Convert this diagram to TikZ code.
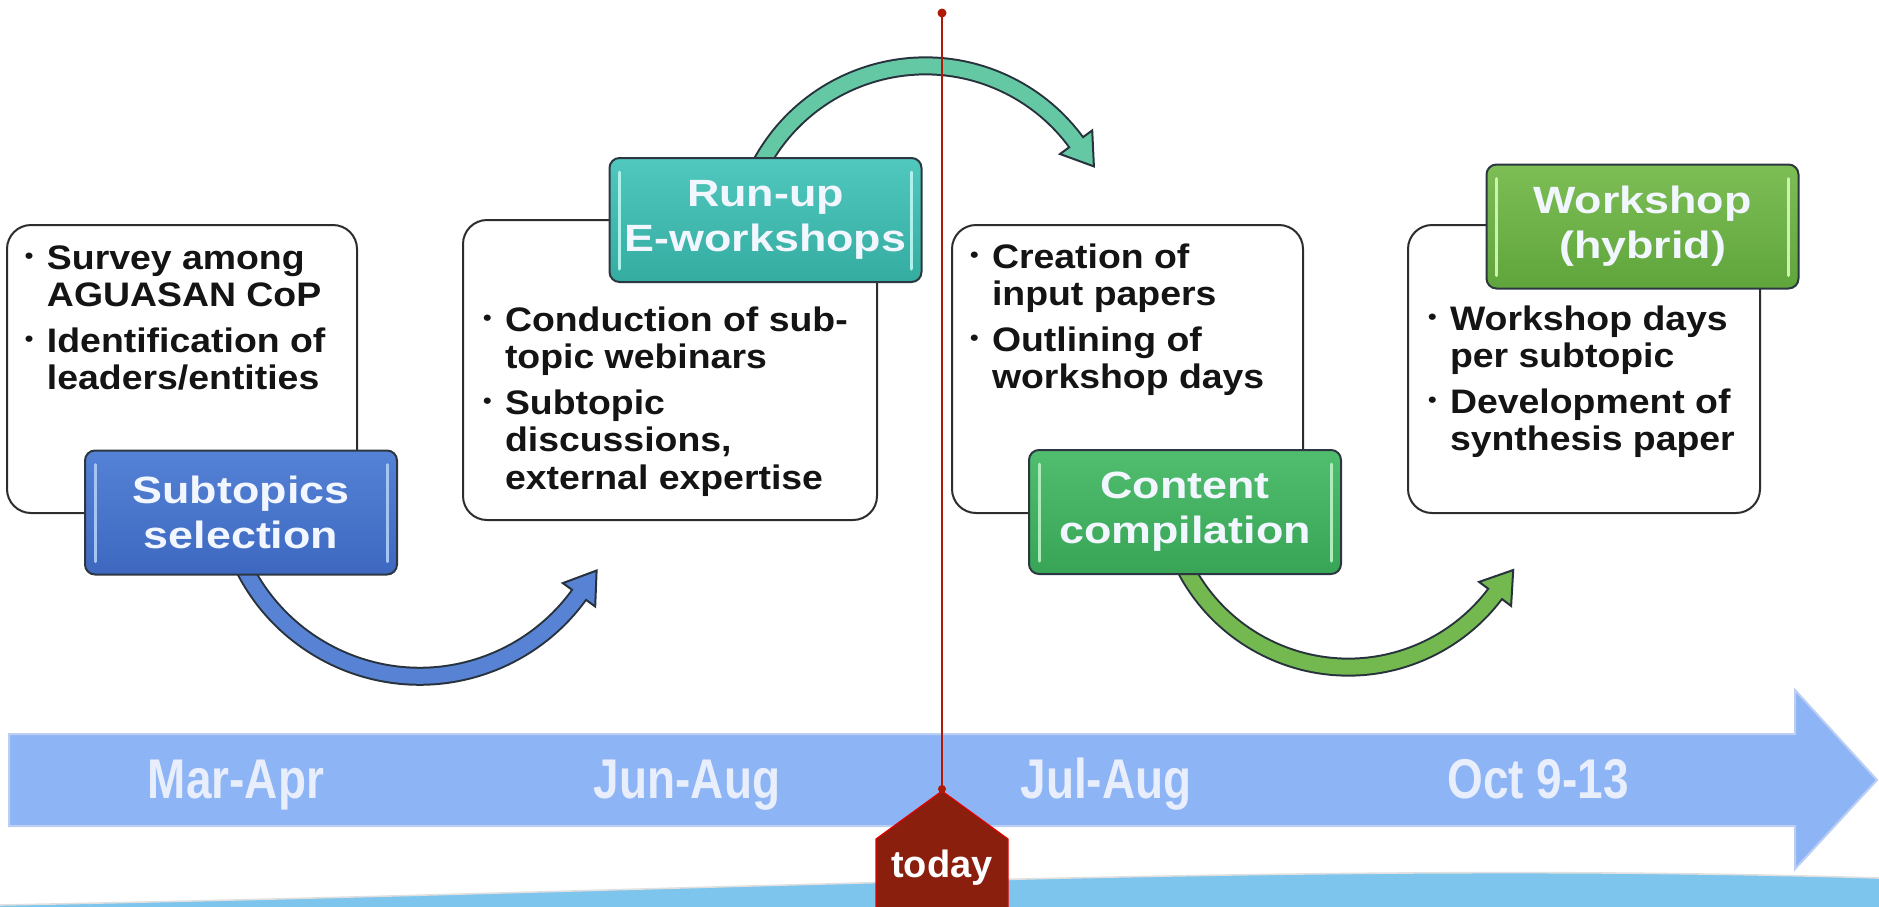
\documentclass[tikz,border=0pt]{standalone}
\usepackage{fontspec}
\usepackage{graphicx}
\setmainfont{Liberation Sans}
\newfontfamily\boxfont[FakeStretch=1.1]{Liberation Sans}
\newfontfamily\labfont[FakeStretch=1.18]{Liberation Sans}
\newfontfamily\bandfont[FakeStretch=0.82]{Liberation Sans}
\usetikzlibrary{calc}
\definecolor{boxline}{RGB}{45,45,45}
\definecolor{labline}{RGB}{45,55,65}
\definecolor{labtext}{RGB}{242,246,255}
\definecolor{bandcol}{RGB}{141,180,245}
\definecolor{bandedge}{RGB}{188,207,242}
\definecolor{datetext}{RGB}{232,238,252}
\definecolor{wavecol}{RGB}{126,197,238}
\definecolor{todayred}{RGB}{175,25,5}
\definecolor{todayfill}{RGB}{137,31,12}
\definecolor{arcline}{RGB}{40,50,60}
\definecolor{arcblue}{RGB}{88,130,212}
\definecolor{arcteal}{RGB}{100,200,165}
\definecolor{arcgreen}{RGB}{115,185,80}
\definecolor{lAtop}{RGB}{84,130,214}\definecolor{lAbot}{RGB}{62,104,192}\definecolor{lAhl}{RGB}{165,198,242}
\definecolor{lBtop}{RGB}{80,200,190}\definecolor{lBbot}{RGB}{52,172,160}\definecolor{lBhl}{RGB}{175,242,236}
\definecolor{lCtop}{RGB}{80,190,110}\definecolor{lCbot}{RGB}{55,165,85}\definecolor{lChl}{RGB}{175,236,188}
\definecolor{lDtop}{RGB}{125,190,85}\definecolor{lDbot}{RGB}{95,165,60}\definecolor{lDhl}{RGB}{205,242,175}
\newcommand\bul{\makebox[11pt][l]{\raisebox{2.7pt}{\scalebox{0.65}{\textbullet}}}}
\begin{document}
\begin{tikzpicture}[x=0.5pt,y=-0.5pt,
  txtbox/.style={draw=boxline, line width=1pt, fill=white, rounded corners=12pt, inner sep=0pt, outer sep=0pt},
  itemtext/.style={anchor=base west, inner sep=0pt, outer sep=0pt, text=black!92, font=\boxfont\fontsize{17}{18.75}\selectfont\bfseries},
  lab/.style={draw=labline, line width=1pt, rounded corners=5pt, minimum width=156pt, minimum height=62pt, inner sep=0pt, outer sep=0pt, align=center, text=labtext, font=\labfont\fontsize{19}{22.5}\selectfont\bfseries},
  hl/.style={line width=1.5pt, line cap=round},
  datelab/.style={anchor=base, inner sep=0pt, text=datetext, font=\bandfont\fontsize{28}{30}\selectfont\bfseries},
  shaftout/.style={line width=9.5pt, draw=arcline},
  headshape/.style={draw=arcline, line width=1pt, line join=miter},
  shaftin/.style={line width=7.5pt}
]
\useasboundingbox (0,0) rectangle (1879,906);

% bottom wave
\fill[wavecol] (0,910) -- (0,905) .. controls (700,892) and (1300,860) .. (1879,878) -- (1879,910) -- cycle;
\draw[black!12, line width=0.8pt] (0,905) .. controls (700,892) and (1300,860) .. (1879,878);

% timeline band
\filldraw[fill=bandcol, draw=bandedge, line width=1pt] (9,734) -- (1795,734) -- (1795,690) -- (1877,780) -- (1795,869) -- (1795,826) -- (9,826) -- cycle;
\node[datelab] (d1) at (236,798) {Mar-Apr};
\node[datelab] (d2) at (687,798) {Jun-Aug};
\node[datelab] (d3) at (1106,798) {Jul-Aug};
\node[datelab] (d4) at (1538,798) {Oct 9-13};

% curved arrows
\coordinate (a1s) at (234.9,546.8);
\coordinate (a2s) at (758.8,168);
\coordinate (a3s) at (1179.1,555.1);
\draw[shaftout] (a1s) arc[start angle=160, end angle=35.9, radius=196.7];
\filldraw[headshape, fill=arcblue] (562.8,583.1) -- (596.6,570.5) -- (595.2,606.5) -- cycle;
\draw[shaftin, arcblue] (a1s) arc[start angle=160, end angle=35.9, radius=196.7] -- ++(2.3,-3.2);

\draw[shaftout] (a2s) arc[start angle=-153, end angle=-36.3, radius=187];
\filldraw[headshape, fill=arcteal] (1092.2,130.4) -- (1093.9,166.4) -- (1060,154) -- cycle;
\draw[shaftin, arcteal] (a2s) arc[start angle=-153, end angle=-36.3, radius=187] -- ++(2.4,3.2);

\draw[shaftout] (a3s) arc[start angle=157, end angle=37, radius=183.8];
\filldraw[headshape, fill=arcgreen] (1479.1,581.9) -- (1513.2,570) -- (1511.1,605.9) -- cycle;
\draw[shaftin, arcgreen] (a3s) arc[start angle=157, end angle=37, radius=183.8] -- ++(2.4,-3.2);

% text boxes
\node[txtbox, minimum width=175pt, minimum height=144pt] (b1) at (182,369) {};
\node[txtbox, minimum width=207pt, minimum height=150pt] (b2) at (670,370) {};
\node[txtbox, minimum width=175.5pt, minimum height=144pt] (b3) at (1127.5,369) {};
\node[txtbox, minimum width=176pt, minimum height=144pt] (b4) at (1584,369) {};

\node[itemtext] (t1) at (25,269) {\begin{tabular}[t]{@{}l@{}l@{}}\bul&Survey among\\&AGUASAN CoP\\[4pt]\bul&Identification of\\&leaders/entities\end{tabular}};
\node[itemtext] (t2) at (483,331) {\begin{tabular}[t]{@{}l@{}l@{}}\bul&Conduction of sub-\\&topic webinars\\[4pt]\bul&Subtopic\\&discussions,\\&external expertise\end{tabular}};
\node[itemtext] (t3) at (970,268) {\begin{tabular}[t]{@{}l@{}l@{}}\bul&Creation of\\&input papers\\[4pt]\bul&Outlining of\\&workshop days\end{tabular}};
\node[itemtext] (t4) at (1428,330) {\begin{tabular}[t]{@{}l@{}l@{}}\bul&Workshop days\\&per subtopic\\[4pt]\bul&Development of\\&synthesis paper\end{tabular}};

% phase labels
\node[lab, top color=lAtop, bottom color=lAbot] (l1) at (241,512.5) {Subtopics\\selection};
\node[lab, top color=lBtop, bottom color=lBbot] (l2) at (765.5,220) {Run-up\\E-workshops};
\node[lab, top color=lCtop, bottom color=lCbot] (l3) at (1185,512) {Content\\compilation};
\node[lab, top color=lDtop, bottom color=lDbot] (l4) at (1642.5,226.5) {Workshop\\(hybrid)};
\foreach \n/\c in {l1/lAhl, l2/lBhl, l3/lChl, l4/lDhl}{
  \draw[hl, \c] ($(\n.north west)+(10,14)$) -- ($(\n.south west)+(10,-13)$);
  \draw[hl, \c] ($(\n.north east)+(-10,14)$) -- ($(\n.south east)+(-10,-13)$);
}

% today marker
\coordinate (ttop) at (942,13);
\coordinate (ttip) at (942,789);
\draw[todayred, line width=1pt] (ttop) -- (ttip);
\fill[todayred] (ttop) circle[radius=4.5];
\filldraw[fill=todayfill, draw=red!90!black, line width=0.6pt] (942,791) -- (1008,839) -- (1008,912) -- (876,912) -- (876,839) -- cycle;
\fill[todayred] (ttip) circle[radius=4];
\node[anchor=base, inner sep=0pt, text=white, font=\fontsize{19}{20}\selectfont\bfseries] (today) at (942,877) {today};
\end{tikzpicture}
\end{document}
